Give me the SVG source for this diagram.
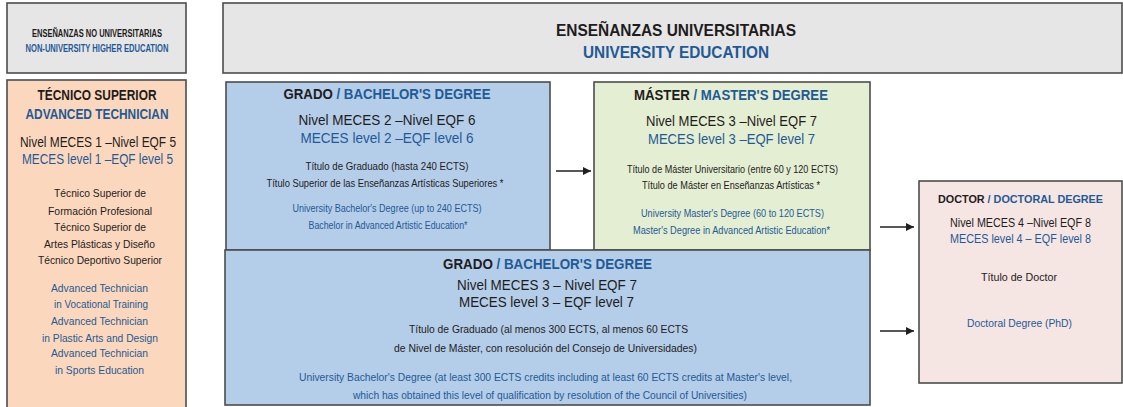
<svg xmlns="http://www.w3.org/2000/svg" width="1123" height="407" viewBox="0 0 1123 407">
<style>
text{font-family:'Liberation Sans',Arial,sans-serif;text-anchor:middle;fill:#1e1c1d}
.b{font-weight:bold}
.st{text-anchor:start}
.u{fill:#1f5a96}
.box{stroke:#4d4d4d;stroke-width:1.6}
.gray{fill:#e6e6e6}
.orange{fill:#fbd8bd}
.blue{fill:#b4cde8}
.green{fill:#e4eed2}
.pink{fill:#f5e5e3}
.s9{font-size:10.5px}
.s16{font-size:16.5px}
.s14{font-size:14px}
.s145{font-size:14.5px}
.s135{font-size:14px}
.sdoc{font-size:11.3px}
.s125{font-size:12.5px}
.s11{font-size:11.5px}
.conn line{stroke:#231f20;stroke-width:1.5}
</style>
<defs>
<marker id="ah" viewBox="0 0 10 10" refX="10" refY="5" markerWidth="10" markerHeight="8" markerUnits="userSpaceOnUse" orient="auto">
<path d="M0,0 L10,5 L0,10 z" fill="#231f20"/>
</marker>
</defs>
<rect width="1123" height="407" fill="#ffffff"/>

<g id="non-university-header">
<rect class="box gray" x="7" y="3" width="179" height="70"/>
<text class="b s9" x="97" y="37" textLength="130" lengthAdjust="spacingAndGlyphs">ENSEÑANZAS NO UNIVERSITARIAS</text>
<text class="b s9 u" x="97" y="52" textLength="143" lengthAdjust="spacingAndGlyphs">NON-UNIVERSITY HIGHER EDUCATION</text>
</g>

<g id="university-header">
<rect class="box gray" x="223" y="3" width="899" height="70"/>
<text class="b s16" x="676" y="36" textLength="240" lengthAdjust="spacingAndGlyphs">ENSEÑANZAS UNIVERSITARIAS</text>
<text class="b s16 u" x="676" y="57.5" textLength="186" lengthAdjust="spacingAndGlyphs">UNIVERSITY EDUCATION</text>
</g>

<g id="tecnico-superior">
<rect class="box orange" x="7" y="80" width="179" height="330"/>
<text class="b s14" x="97" y="100" textLength="119" lengthAdjust="spacingAndGlyphs">TÉCNICO SUPERIOR</text>
<text class="b s14 u" x="97" y="119" textLength="143" lengthAdjust="spacingAndGlyphs">ADVANCED TECHNICIAN</text>
<text class="s14" x="98" y="147" textLength="156" lengthAdjust="spacingAndGlyphs">Nivel MECES 1 –Nivel EQF 5</text>
<text class="s14 u" x="97.5" y="164" textLength="151" lengthAdjust="spacingAndGlyphs">MECES level 1 –EQF level 5</text>
<text class="s11" x="100" y="197" textLength="92" lengthAdjust="spacingAndGlyphs">Técnico Superior de</text>
<text class="s11" x="100" y="215" textLength="104" lengthAdjust="spacingAndGlyphs">Formación Profesional</text>
<text class="s11" x="100" y="231" textLength="92" lengthAdjust="spacingAndGlyphs">Técnico Superior de</text>
<text class="s11" x="99.5" y="248" textLength="111" lengthAdjust="spacingAndGlyphs">Artes Plásticas y Diseño</text>
<text class="s11" x="100" y="264" textLength="124" lengthAdjust="spacingAndGlyphs">Técnico Deportivo Superior</text>
<text class="s11 u" x="99.5" y="292" textLength="97" lengthAdjust="spacingAndGlyphs">Advanced Technician</text>
<text class="s11 u" x="101" y="308" textLength="94" lengthAdjust="spacingAndGlyphs">in Vocational Training</text>
<text class="s11 u" x="99.5" y="325" textLength="97" lengthAdjust="spacingAndGlyphs">Advanced Technician</text>
<text class="s11 u" x="100" y="342" textLength="116" lengthAdjust="spacingAndGlyphs">in Plastic Arts and Design</text>
<text class="s11 u" x="99.5" y="357" textLength="97" lengthAdjust="spacingAndGlyphs">Advanced Technician</text>
<text class="s11 u" x="99.5" y="374" textLength="89" lengthAdjust="spacingAndGlyphs">in Sports Education</text>
</g>

<g id="grado-240">
<rect class="box blue" x="226" y="82" width="324" height="168"/>
<text class="b s135 st" x="283.5" y="99" textLength="49.3" lengthAdjust="spacingAndGlyphs">GRADO</text>
<text class="b s135 st u" x="336.5" y="99" textLength="154" lengthAdjust="spacingAndGlyphs">/ BACHELOR'S DEGREE</text>
<text class="s145" x="387" y="125" textLength="177" lengthAdjust="spacingAndGlyphs">Nivel MECES 2 –Nivel EQF 6</text>
<text class="s145 u" x="387" y="143" textLength="173" lengthAdjust="spacingAndGlyphs">MECES level 2 –EQF level 6</text>
<text class="s11" x="387" y="170" textLength="163" lengthAdjust="spacingAndGlyphs">Título de Graduado (hasta 240 ECTS)</text>
<text class="s11" x="385" y="187" textLength="237" lengthAdjust="spacingAndGlyphs">Título Superior de las Enseñanzas Artísticas Superiores *</text>
<text class="s11 u" x="387" y="212" textLength="189" lengthAdjust="spacingAndGlyphs">University Bachelor's Degree  (up to 240 ECTS)</text>
<text class="s11 u" x="388" y="229" textLength="159" lengthAdjust="spacingAndGlyphs">Bachelor in Advanced Artistic Education*</text>
</g>

<g id="master">
<rect class="box green" x="594" y="82" width="276" height="168"/>
<text class="b s135 st" x="634" y="100" textLength="55.8" lengthAdjust="spacingAndGlyphs">MÁSTER</text>
<text class="b s135 st u" x="693.5" y="100" textLength="134.5" lengthAdjust="spacingAndGlyphs">/ MASTER'S DEGREE</text>
<text class="s145" x="731.5" y="126" textLength="171" lengthAdjust="spacingAndGlyphs">Nivel MECES 3 –Nivel EQF 7</text>
<text class="s145 u" x="731.5" y="144" textLength="167" lengthAdjust="spacingAndGlyphs">MECES level 3 –EQF level 7</text>
<text class="s11" x="732.5" y="173" textLength="211" lengthAdjust="spacingAndGlyphs">Título de Máster Universitario (entre 60 y 120 ECTS)</text>
<text class="s11" x="731" y="189" textLength="178" lengthAdjust="spacingAndGlyphs">Título de Máster en Enseñanzas Artísticas *</text>
<text class="s11 u" x="732.5" y="217" textLength="183" lengthAdjust="spacingAndGlyphs">University Master's Degree (60 to 120 ECTS)</text>
<text class="s11 u" x="731.5" y="234" textLength="197" lengthAdjust="spacingAndGlyphs">Master's Degree in Advanced Artistic Education*</text>
</g>

<g id="grado-300">
<rect class="box blue" x="225" y="250" width="645" height="155"/>
<text class="b s135 st" x="443" y="269" textLength="49.8" lengthAdjust="spacingAndGlyphs">GRADO</text>
<text class="b s135 st u" x="496.5" y="269" textLength="155.5" lengthAdjust="spacingAndGlyphs">/ BACHELOR'S DEGREE</text>
<text class="s145" x="547" y="290" textLength="180" lengthAdjust="spacingAndGlyphs">Nivel MECES 3 – Nivel EQF 7</text>
<text class="s145" x="546.5" y="307" textLength="175" lengthAdjust="spacingAndGlyphs">MECES level 3 – EQF level 7</text>
<text class="s11" x="548.5" y="333" textLength="279" lengthAdjust="spacingAndGlyphs">Título de Graduado (al menos 300 ECTS, al menos 60 ECTS</text>
<text class="s11" x="545.5" y="352" textLength="303" lengthAdjust="spacingAndGlyphs">de Nivel de Máster, con resolución del Consejo de Universidades)</text>
<text class="s11 u" x="545.5" y="381" textLength="493" lengthAdjust="spacingAndGlyphs">University Bachelor's Degree (at least 300 ECTS credits including at least 60 ECTS credits at Master's level,</text>
<text class="s11 u" x="550" y="399" textLength="394" lengthAdjust="spacingAndGlyphs">which has obtained this level of qualification by resolution of the Council of Universities)</text>
</g>

<g id="doctor">
<rect class="box pink" x="919" y="181" width="203" height="202"/>
<text class="b sdoc st" x="938" y="202.5" textLength="46.6" lengthAdjust="spacingAndGlyphs">DOCTOR</text>
<text class="b sdoc st u" x="987.6" y="202.5" textLength="115.4" lengthAdjust="spacingAndGlyphs">/ DOCTORAL DEGREE</text>
<text class="s125" x="1020.5" y="226.5" textLength="141" lengthAdjust="spacingAndGlyphs">Nivel MECES 4 –Nivel EQF 8</text>
<text class="s125 u" x="1020.5" y="242.5" textLength="141" lengthAdjust="spacingAndGlyphs">MECES level 4 – EQF level 8</text>
<text class="s11" x="1019" y="281" textLength="76" lengthAdjust="spacingAndGlyphs">Título de Doctor</text>
<text class="s11 u" x="1019.5" y="327" textLength="105" lengthAdjust="spacingAndGlyphs">Doctoral Degree (PhD)</text>
</g>

<g id="connectors" class="conn">
<line x1="556" y1="171" x2="591" y2="171" marker-end="url(#ah)"/>
<line x1="880" y1="227" x2="914" y2="227" marker-end="url(#ah)"/>
<line x1="880" y1="331" x2="914" y2="331" marker-end="url(#ah)"/>
</g>
</svg>
